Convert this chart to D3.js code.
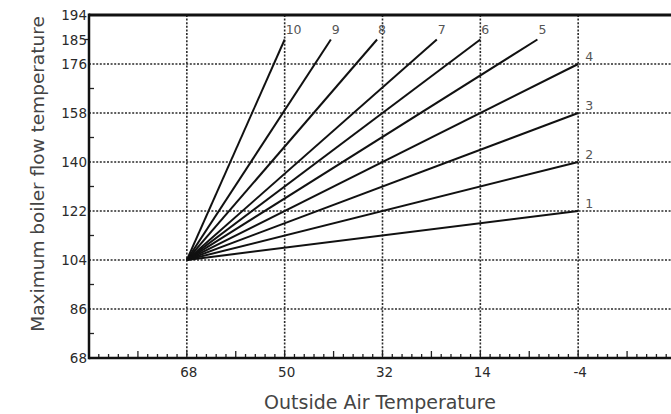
<!DOCTYPE html>
<html>
<head>
<meta charset="utf-8">
<script src="https://cdn.jsdelivr.net/npm/d3@7"></script>
<style>
  html, body { margin: 0; padding: 0; background: #fff; }
  svg { display: block; }
  text { font-family: "DejaVu Sans", Verdana, sans-serif; }
</style>
</head>
<body>
<svg id="chart" width="671" height="414"></svg>
<script>
// Heating curves: maximum boiler flow temperature vs outside air temperature (°F)
const outsideTicks = [68, 50, 32, 14, -4];
const flowTicks = [68, 86, 104, 122, 140, 158, 176, 185, 194];
const flowGrid = [86, 104, 122, 140, 158, 176];
const flowMinor = [77, 95, 113, 131, 149, 167];

const curveNames = ["1", "2", "3", "4", "5", "6", "7", "8", "9", "10"];
// every curve starts from the same base point
const baseOutside = 68;
const baseFlow = 104;
// end point of each curve
const endOutside = [-4, -4, -4, -4, 3.5, 14, 22, 33, 41.5, 50];
const endFlow = [122, 140, 158, 176, 185, 185, 185, 185, 185, 185];

const svg = d3.select("#chart");
const W = 671, H = 414;

const x = d3.scaleLinear().domain([86, -22]).range([89, 676]);
const y = d3.scaleLinear().domain([68, 194]).range([358, 15]);

const plotLeft = x(86), plotRight = W, plotTop = y(194), plotBottom = y(68);

// grid
const grid = svg.append("g").attr("stroke", "#2a2a2a").attr("stroke-width", 1.6)
  .attr("stroke-dasharray", "2,1.6");
grid.selectAll("line.h").data(flowGrid).join("line")
  .attr("x1", plotLeft).attr("x2", plotRight)
  .attr("y1", d => y(d)).attr("y2", d => y(d));
grid.selectAll("line.v").data(outsideTicks).join("line")
  .attr("x1", d => x(d)).attr("x2", d => x(d))
  .attr("y1", plotTop).attr("y2", plotBottom);

// bottom axis: 1 °C steps (1.8 °F), taller every 5 °C
const cSteps = d3.range(-30, 31, 1);
svg.append("g").selectAll("line").data(cSteps).join("line")
  .attr("x1", c => x(32 + 1.8 * c)).attr("x2", c => x(32 + 1.8 * c))
  .attr("y1", plotBottom)
  .attr("y2", c => plotBottom - (c % 5 === 0 ? 7 : 4))
  .attr("stroke", "#222").attr("stroke-width", 1.3);

// left axis minor ticks
svg.append("g").selectAll("line").data(flowMinor).join("line")
  .attr("x1", plotLeft).attr("x2", plotLeft + 5)
  .attr("y1", d => y(d)).attr("y2", d => y(d))
  .attr("stroke", "#222").attr("stroke-width", 1.3);
svg.append("line").attr("x1", plotLeft - 4).attr("x2", plotLeft)
  .attr("y1", y(185)).attr("y2", y(185)).attr("stroke", "#222").attr("stroke-width", 1.3);

// frame
svg.append("line").attr("x1", plotLeft).attr("x2", plotRight)
  .attr("y1", plotTop).attr("y2", plotTop).attr("stroke", "#111").attr("stroke-width", 3);
svg.append("line").attr("x1", plotLeft).attr("x2", plotRight)
  .attr("y1", plotBottom).attr("y2", plotBottom).attr("stroke", "#111").attr("stroke-width", 2.5);
svg.append("line").attr("x1", plotLeft).attr("x2", plotLeft)
  .attr("y1", plotTop - 1.5).attr("y2", plotBottom + 1.2).attr("stroke", "#111").attr("stroke-width", 2.5);

// tick labels
svg.append("g").selectAll("text").data(flowTicks).join("text")
  .attr("x", plotLeft - 2).attr("y", d => y(d) + 5)
  .attr("text-anchor", "end").attr("font-size", 13.5).attr("fill", "#2a2a2a")
  .text(d => d);
svg.append("g").selectAll("text").data(outsideTicks).join("text")
  .attr("x", d => x(d) + 2).attr("y", 377)
  .attr("text-anchor", "middle").attr("font-size", 13.5).attr("fill", "#2a2a2a")
  .text(d => d);

// curves
const curves = curveNames.map((name, i) => ({
  name,
  pts: [[baseOutside, baseFlow], [endOutside[i], endFlow[i]]]
}));
const line = d3.line().x(d => x(d[0])).y(d => y(d[1]));
svg.append("g").selectAll("path").data(curves).join("path")
  .attr("d", d => line(d.pts))
  .attr("fill", "none").attr("stroke", "#111").attr("stroke-width", 2);

// curve labels
svg.append("g").selectAll("text").data(curves).join("text")
  .attr("x", (d, i) => x(endOutside[i]) + (endFlow[i] < 185 ? 7 : 1))
  .attr("y", (d, i) => y(endFlow[i]) + (endFlow[i] < 185 ? -3 : -6))
  .attr("font-size", 12.5).attr("fill", "#555")
  .text(d => d.name);

// axis titles
svg.append("text").attr("x", 380).attr("y", 409)
  .attr("text-anchor", "middle").attr("font-size", 19).attr("fill", "#444")
  .text("Outside Air Temperature");
svg.append("text")
  .attr("transform", "translate(44,174) rotate(-90)")
  .attr("text-anchor", "middle").attr("font-size", 18.5).attr("fill", "#444")
  .text("Maximum boiler flow temperature");
</script>
</body>
</html>
